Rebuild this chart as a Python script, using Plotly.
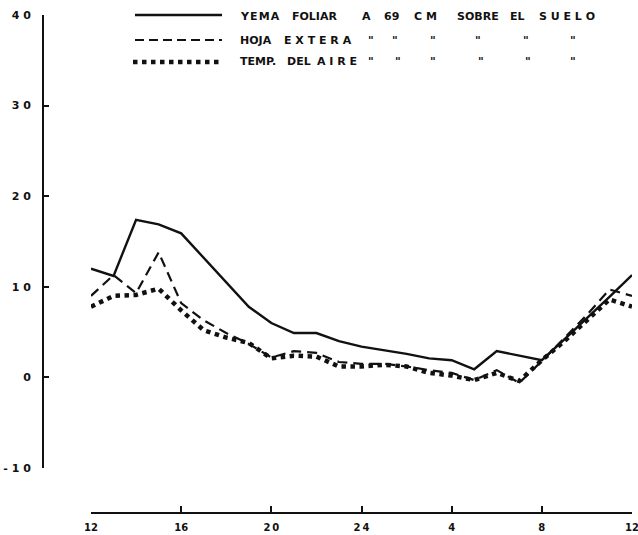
import plotly.graph_objects as go

# Hours of the day (12 noon through the following noon)
hours = list(range(12, 37))

# Temperature of the leaf bud 69 cm above the ground (deg C)
yema_foliar = [12.0, 11.2, 17.4, 16.9, 15.9, 13.2, 10.4, 7.8, 6.0, 4.9, 4.9, 4.0, 3.4,
               3.0, 2.6, 2.1, 1.9, 0.9, 2.9, 2.4, 1.9, 4.2, 6.5, 8.9, 11.3]
# Outer leaf temperature
hoja_extera = [9.0, 11.3, 9.3, 13.8, 8.2, 6.3, 4.9, 3.7, 2.2, 2.9, 2.7, 1.7, 1.5,
               1.5, 1.2, 0.8, 0.5, -0.3, 0.8, -0.6, 1.8, 4.3, 6.9, 9.7, 9.0]
# Air temperature
temp_aire = [7.8, 9.0, 9.1, 9.8, 7.4, 5.2, 4.4, 3.8, 2.1, 2.4, 2.3, 1.2, 1.2,
             1.4, 1.2, 0.5, 0.2, -0.3, 0.5, -0.4, 1.9, 4.0, 6.3, 8.6, 7.8]

x_tickvals = [12, 16, 20, 24, 28, 32, 36]
x_ticktext = ["12", "16", "2\u20090", "2\u20094", "4", "8", "12"]
y_tickvals = [-10, 0, 10, 20, 30, 40]
y_ticktext = ["- 1 0", "0", "1 0", "2 0", "3 0", "4 0"]

W, H = 638, 535
ML, MR, MT, MB = 43, 2, 15, 22
PW, PH = W - ML - MR, H - MT - MB


def px(x):
    return (x - ML) / PW


def py(y):
    return (H - MB - y) / PH


HAIR = "\u200a"
BLACK = "#111111"

fig = go.Figure()
fig.add_trace(go.Scatter(x=hours, y=temp_aire, mode="lines",
                         line=dict(color=BLACK, width=4.5, dash="4.5px,4.5px"),
                         showlegend=False))
fig.add_trace(go.Scatter(x=hours, y=hoja_extera, mode="lines",
                         line=dict(color=BLACK, width=2.2, dash="10px,6px"),
                         showlegend=False))
fig.add_trace(go.Scatter(x=hours, y=yema_foliar, mode="lines",
                         line=dict(color=BLACK, width=2.4),
                         showlegend=False))

x_font = dict(family="DejaVu Sans", size=10, color=BLACK, weight="bold")
y_font = dict(family="DejaVu Sans", size=11, color=BLACK, weight="bold")

fig.update_layout(
    width=W, height=H,
    margin=dict(l=ML, r=MR, t=MT, b=MB, pad=0),
    paper_bgcolor="white", plot_bgcolor="white",
    xaxis=dict(domain=[px(91), px(632)], range=[12, 36], anchor="free", position=0,
               tickvals=x_tickvals, ticktext=x_ticktext, ticks="inside", ticklen=6,
               tickwidth=1.5, tickcolor=BLACK, showline=True, linecolor=BLACK, linewidth=1.5,
               showgrid=False, zeroline=False, tickfont=x_font, ticklabelstandoff=5,
               ticklabeloverflow="allow", automargin=False),
    yaxis=dict(domain=[py(468), 1], range=[-10, 40], anchor="free", position=0,
               tickvals=y_tickvals, ticktext=y_ticktext, ticks="inside", ticklen=5,
               tickwidth=1.5, tickcolor=BLACK, showline=True, linecolor=BLACK, linewidth=2,
               showgrid=False, zeroline=False, tickfont=y_font, ticklabelstandoff=9,
               ticklabeloverflow="allow", automargin=False),
)

# Legend keys
shapes = [
    dict(type="line", xref="paper", yref="paper", x0=px(135), x1=px(222), y0=py(15), y1=py(15),
         line=dict(color=BLACK, width=2.4)),
    dict(type="line", xref="paper", yref="paper", x0=px(135), x1=px(222), y0=py(40), y1=py(40),
         line=dict(color=BLACK, width=2.2, dash="9px,5px")),
    dict(type="line", xref="paper", yref="paper", x0=px(133), x1=px(222), y0=py(62), y1=py(62),
         line=dict(color=BLACK, width=4.5, dash="4.5px,4.5px")),
]
fig.update_layout(shapes=shapes)

legend_font = dict(family="DejaVu Sans", size=11, color=BLACK, weight="bold")
rows = [
    (16, [(238, HAIR.join("YEMA")), (290, "FOLIAR"), (360, "A"), (382, "69"),
          (412, "C M"), (455, "SOBRE"), (508, "EL"), (537, "S U E L O")]),
    (41, [(238, "HOJA"), (282, "E X T E R A"), (366, "\""), (390, "\""), (428, "\""),
          (473, "\""), (521, "\""), (568, "\"")]),
    (62, [(238, "TEMP."), (285, "DEL"), (315, "A I R E"), (366, "\""), (393, "\""),
          (428, "\""), (476, "\""), (523, "\""), (568, "\"")]),
]
annotations = []
for yy, words in rows:
    for xx, txt in words:
        annotations.append(dict(x=px(xx), y=py(yy), xref="paper", yref="paper",
                                text=txt, showarrow=False, xanchor="left",
                                yanchor="middle", font=legend_font))
fig.update_layout(annotations=annotations)

fig.write_html("out.html")
